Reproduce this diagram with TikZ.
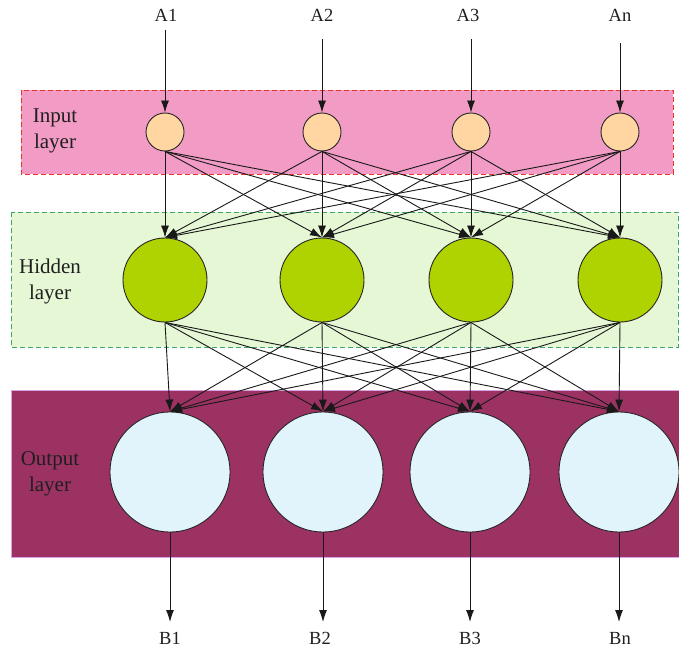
\documentclass[tikz,border=0pt]{standalone}
\usepackage{fontspec}
\setmainfont{Liberation Serif}
\usetikzlibrary{arrows.meta}
\definecolor{inpink}{HTML}{F29BC4}
\definecolor{inred}{HTML}{E8352C}
\definecolor{hidbg}{HTML}{E5F7D5}
\definecolor{hidline}{HTML}{3FA468}
\definecolor{outbg}{HTML}{9B3262}
\definecolor{outline}{HTML}{D8A3E3}
\definecolor{inode}{HTML}{FFD5A2}
\definecolor{hnode}{HTML}{AED300}
\definecolor{onode}{HTML}{E2F4FB}
\tikzset{
  lbl/.style={font=\fontsize{18.5}{20}\selectfont, text=black!88},
  laylbl/.style={font=\fontsize{21}{26}\selectfont, align=center, text=black!88},
  inn/.style={circle, draw=black!85, line width=0.9pt, fill=inode, minimum size=38pt, inner sep=0pt},
  hid/.style={circle, draw=black!85, line width=0.9pt, fill=hnode, minimum size=84pt, inner sep=0pt},
  outn/.style={circle, draw=black!85, line width=0.9pt, fill=onode, minimum size=120pt, inner sep=0pt},
  conn/.style={draw=black!90, line width=0.9pt, -{Latex[length=12pt,width=8pt]}},
}
\begin{document}
\begin{tikzpicture}[x=1pt,y=-1pt]
\useasboundingbox (0,0) rectangle (679,652);
% layer boxes
\fill[inpink] (21,90) rectangle (673,174);
\draw[inred, dashed, dash pattern=on 5pt off 3pt, line width=0.9pt] (21,90) rectangle (673,174);
\fill[hidbg] (11,212) rectangle (678,347);
\draw[hidline, dashed, dash pattern=on 5pt off 3pt, line width=0.9pt] (11,212) rectangle (678,347);
\fill[outbg] (11,390) rectangle (679,557);
\draw[outline, line width=1pt] (679,390) -- (11,390) -- (11,557) -- (679,557);
% layer labels
\node[laylbl] (linput) at (55,131) {Input\\layer};
\node[laylbl] (lhidden) at (50,281) {Hidden\\layer};
\node[laylbl] (loutput) at (50,474) {Output\\layer};
% nodes
\foreach \i/\x in {1/165,2/322,3/471,4/620} {
  \node[inn] (i\i) at (\x,132) {};
  \node[hid] (h\i) at (\x,280) {};
}
\foreach \i/\x in {1/170,2/323,3/470,4/619} {
  \node[outn] (o\i) at (\x,472) {};
}
% top labels
\node[lbl] (a1) at (166,15) {A1};
\node[lbl] (a2) at (322,15) {A2};
\node[lbl] (a3) at (468,15) {A3};
\node[lbl] (a4) at (620,15) {An};
\node[lbl] (b1) at (170,638) {B1};
\node[lbl] (b2) at (320,638) {B2};
\node[lbl] (b3) at (470,638) {B3};
\node[lbl] (b4) at (620,638) {Bn};
\coordinate (t1) at (165,30);
\coordinate (t2) at (322,39);
\coordinate (t3) at (471,39);
\coordinate (t4) at (620,43);
\coordinate (e1) at (170,622);
\coordinate (e2) at (323,622);
\coordinate (e3) at (470,622);
\coordinate (e4) at (619,622);
\foreach \i in {1,2,3,4} {
  \draw[conn] (t\i) -- (i\i.north);
  \draw[conn] (o\i.south) -- (e\i);
  \foreach \j in {1,2,3,4} {
    \draw[conn] (i\i.south) -- (h\j.north);
    \draw[conn] (h\i.south) -- (o\j.north);
  }
}
\end{tikzpicture}
\end{document}
